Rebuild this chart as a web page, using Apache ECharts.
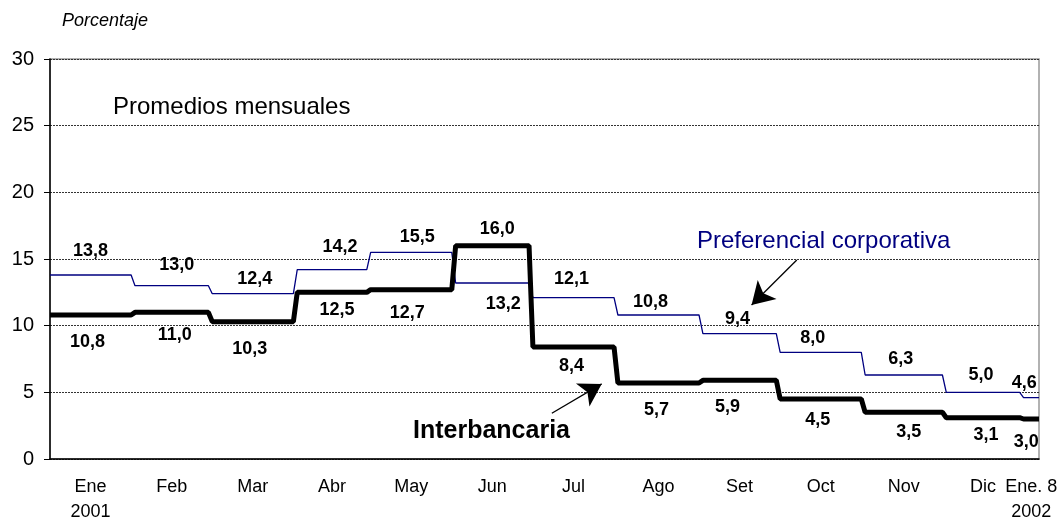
<!DOCTYPE html>
<html>
<head>
<meta charset="utf-8">
<script src="https://cdn.jsdelivr.net/npm/echarts@6/dist/echarts.min.js"></script>
<style>
  html, body { margin: 0; padding: 0; background: #fff; }
  #chart { width: 1064px; height: 518px; }
</style>
</head>
<body>
<div id="chart"></div>
<script>
// dias habiles por mes (Ene 2001 .. Ene 8 2002)
var monthDays = [22, 20, 22, 19, 22, 20, 22, 22, 20, 22, 21, 20, 5];
var monthLabels = ['Ene\n2001', 'Feb', 'Mar', 'Abr', 'May', 'Jun', 'Jul', 'Ago', 'Set', 'Oct', 'Nov', 'Dic', 'Ene. 8\n2002'];
var interbancaria = [10.8, 11.0, 10.3, 12.5, 12.7, 16.0, 8.4, 5.7, 5.9, 4.5, 3.5, 3.1, 3.0];
var preferencial = [13.8, 13.0, 12.4, 14.2, 15.5, 13.2, 12.1, 10.8, 9.4, 8.0, 6.3, 5.0, 4.6];

// label nudges (px) for the value labels
var prefOffsets = [[0, -24], [5, -21], [2, -15], [8, -23], [6, -15], [11, 21], [-2, -19], [-8, -13], [-2, -15], [-8, -14], [-3, -16], [-2, -17], [-7, -15]];
var interOffsets = [[-3, 27], [3, 23], [-3, 27], [5, 18], [-4, 23], [5, -17], [-2, 19], [-2, 27], [-12, 27], [-3, 21], [5, 20], [3, 17], [-5, 23]];

// arrows, in data units [dia, %]
var interArrow = [[129.9, 3.43], [142.8, 5.63]];
var prefArrow = [[193.3, 14.93], [181.6, 11.55]];

function stepPoints(values) {
    var pts = [], start = 0;
    for (var i = 0; i < values.length; i++) {
        pts.push([start, values[i]]);
        pts.push([start + monthDays[i] - 1, values[i]]);
        start += monthDays[i];
    }
    return pts;
}
var midDays = [];
(function () {
    var start = 0;
    for (var i = 0; i < monthDays.length; i++) {
        midDays.push(start + (monthDays[i] - 1) / 2);
        start += monthDays[i];
    }
})();
var lastDay = monthDays.reduce(function (a, b) { return a + b; }, 0) - 1;

function labelPoints(values, offsets) {
    return values.map(function (v, i) {
        return {
            value: [midDays[i], v],
            label: { offset: offsets[i] }
        };
    });
}
function fmt(p) {
    return p.value[1].toFixed(1).replace('.', ',');
}

var chart = echarts.init(document.getElementById('chart'));
var font = 'Liberation Sans, Arial, sans-serif';
var valLabel = {
    show: true, position: 'inside', formatter: fmt,
    fontSize: 18, fontWeight: 'bold', color: '#000', opacity: 1,
    textBorderWidth: 0, fontFamily: font
};
var arrowLine = {
    silent: true,
    symbol: ['none', 'arrow'],
    symbolSize: [20, 22],
    label: { show: false },
    lineStyle: { color: '#000', width: 1.3, type: 'solid' }
};
var option = {
    animation: false,
    textStyle: { fontFamily: font },
    grid: {
        left: 50, right: 25, top: 59, bottom: 59,
        outerBoundsMode: 'none',
        containLabel: false,
        show: true, borderColor: '#999', borderWidth: 1.5
    },
    xAxis: {
        type: 'value',
        min: 0, max: lastDay,
        axisLine: { show: true, onZero: false, lineStyle: { color: '#000', width: 1.5 } },
        axisTick: { show: false },
        splitLine: { show: false },
        axisLabel: {
            customValues: midDays,
            margin: 16,
            fontSize: 18,
            lineHeight: 25,
            color: '#000',
            fontFamily: font,
            formatter: function (val) {
                var i = midDays.indexOf(val);
                return i >= 0 ? monthLabels[i] : '';
            }
        }
    },
    yAxis: {
        type: 'value',
        min: 0, max: 30, interval: 5,
        axisLine: { show: true, lineStyle: { color: '#000', width: 1.5 } },
        axisTick: { show: true, inside: false, length: 6, lineStyle: { color: '#000' } },
        axisLabel: { fontSize: 20, color: '#000', margin: 16, fontFamily: font },
        splitLine: { show: true, lineStyle: { color: '#333', type: [2, 1], width: 1 } }
    },
    graphic: [
        { type: 'text', left: 62, top: 12, style: { text: 'Porcentaje', font: 'italic 18px ' + font, fill: '#000' } },
        { type: 'text', left: 113, top: 95, style: { text: 'Promedios mensuales', font: '24px ' + font, fill: '#000' } },
        { type: 'text', left: 697, top: 229, style: { text: 'Preferencial corporativa', font: '24px ' + font, fill: '#000080' } },
        { type: 'text', left: 413, top: 419, style: { text: 'Interbancaria', font: 'bold 25px ' + font, fill: '#000' } }
    ],
    series: [
        {
            name: 'Preferencial corporativa',
            type: 'line',
            data: stepPoints(preferencial),
            showSymbol: false,
            lineStyle: { color: '#000080', width: 1.3 },
            z: 2,
            markLine: Object.assign({ data: [[{ coord: prefArrow[0] }, { coord: prefArrow[1] }]] }, arrowLine)
        },
        {
            name: 'Interbancaria',
            type: 'line',
            data: stepPoints(interbancaria),
            showSymbol: false,
            lineStyle: { color: '#000', width: 5 },
            z: 3,
            markLine: Object.assign({ data: [[{ coord: interArrow[0] }, { coord: interArrow[1] }]] }, arrowLine)
        },
        {
            type: 'scatter',
            symbolSize: 0,
            itemStyle: { opacity: 1 },
            data: labelPoints(preferencial, prefOffsets),
            label: valLabel,
            z: 5
        },
        {
            type: 'scatter',
            symbolSize: 0,
            itemStyle: { opacity: 1 },
            data: labelPoints(interbancaria, interOffsets),
            label: valLabel,
            z: 5
        }
    ]
};
chart.setOption(option);
</script>
</body>
</html>
